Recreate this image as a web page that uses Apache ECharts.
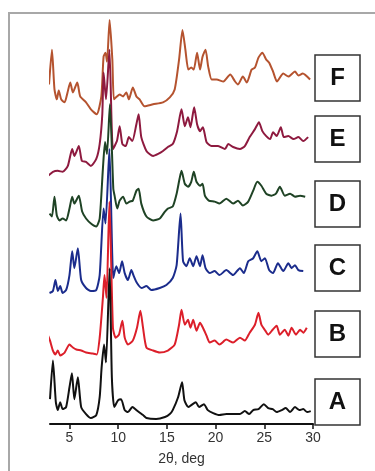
<!DOCTYPE html>
<html>
<head>
<meta charset="utf-8">
<script src="https://cdn.jsdelivr.net/npm/echarts@6/dist/echarts.min.js"></script>
<style>
  html, body { margin: 0; padding: 0; background: #fff; }
  #xrd { width: 375px; height: 471px; }
</style>
</head>
<body>
<div id="xrd"></div>
<script>
// sample names, bottom to top
const samples = ['A', 'B', 'C', 'D', 'E', 'F'];
const colors = ['#111111', '#dc1f2a', '#1b2c8c', '#1f4325', '#8e1a3f', '#b5532f'];
// vertical stacking of the traces
const offsets = [2, 67, 130, 197, 247, 311];
const tickValues = [5, 10, 15, 20, 25, 30];

// 2theta (deg) and intensity (a.u.)
const thetaA = [3.0,3.3,3.6,3.8,4.05,4.3,4.65,5.0,5.25,5.5,5.86,6.2,6.7,7.2,7.75,8.1,8.3,8.55,8.75,9.12,9.35,9.6,10.0,10.3,10.67,11.0,11.45,11.87,12.55,12.9,13.9,14.8,15.3,15.6,16.15,16.56,16.8,17.2,17.5,17.97,18.3,18.8,19.2,19.75,20.4,21.1,21.8,22.5,23.0,23.45,23.86,24.4,24.96,25.4,25.86,26.27,26.8,27.2,27.65,28.15,28.6,29.0,29.4,29.77];
const intA = [23,62,20,12,20,13,15,35,49,23,45,15,8,4,7,25,55,78,60,155,45,15,22,23,12,10,15,12,7,4,3,5,8,12,25,40,22,15,17,20,15,18,12,9,7,8,8,8,11,8,12,13,18,14,13,10,12,14,10,15,12,13,10,11];

const thetaB = [2.8,3.0,3.3,3.56,3.8,4.05,4.5,5.0,5.35,5.7,6.2,6.7,7.4,7.8,8.1,8.43,8.6,8.8,9.1,9.46,9.74,10.08,10.43,10.67,11.0,11.5,11.93,12.28,12.55,12.9,13.58,14.27,15.1,15.8,16.25,16.5,16.84,17.17,17.42,17.7,18.04,18.4,18.7,19.07,19.4,19.9,20.4,21.1,21.8,22.5,23.0,23.5,24.04,24.4,24.7,25.1,25.4,25.86,26.27,26.6,27.1,27.47,27.8,28.25,28.67,29.0,29.36];
const intB = [22,17,7,3,7,2,5,13,10,8,7,5,4,3,20,60,83,60,157,30,20,23,37,20,13,17,30,47,30,10,7,5,7,13,33,48,33,38,30,38,27,35,30,22,15,17,13,18,15,20,17,25,33,45,33,27,23,28,32,23,28,22,30,23,28,25,30];

const thetaC = [2.95,3.3,3.56,3.8,4.05,4.3,4.66,5.0,5.28,5.5,5.86,6.2,6.7,7.2,7.75,8.1,8.5,8.7,9.1,9.5,9.8,10.1,10.4,10.67,11.0,11.35,11.6,11.93,12.4,12.9,13.4,14.27,14.95,15.6,16.0,16.4,16.66,17.0,17.35,17.7,18.04,18.4,18.66,18.97,19.4,19.9,20.4,21.1,21.8,22.5,22.9,23.35,23.86,24.28,24.7,25.06,25.5,25.9,26.4,26.95,27.47,27.8,28.15,28.5,29.0];
const intC = [2,4,15,4,9,2,5,20,44,27,47,15,7,4,5,20,87,72,147,17,29,22,34,22,15,25,19,12,7,9,5,7,10,17,30,82,34,29,37,29,39,29,40,27,22,24,20,25,20,27,22,34,37,44,34,37,25,22,32,24,32,27,30,25,24];

const thetaD = [2.95,3.2,3.46,3.7,3.97,4.3,4.66,5.0,5.28,5.5,5.96,6.3,6.7,7.2,7.75,8.1,8.43,8.65,8.85,9.15,9.5,9.63,9.9,10.15,10.5,10.84,11.18,11.5,11.87,12.1,12.37,12.9,13.58,14.27,14.8,15.1,15.6,16.0,16.3,16.5,16.84,17.17,17.5,17.76,18.04,18.4,18.66,18.9,19.3,19.9,20.4,21.1,21.8,22.3,22.8,23.35,23.86,24.28,24.7,25.2,25.75,26.2,26.6,27.1,27.65,28.15,28.67,29.2];
const intD = [15,12,32,13,8,10,8,20,32,25,33,17,10,5,2,10,60,87,75,125,40,33,20,28,32,25,27,28,38,40,25,12,8,10,17,20,22,35,50,58,45,42,47,57,47,43,45,33,28,27,25,30,25,28,23,27,38,47,43,35,33,35,42,33,35,32,33,32];

const thetaE = [2.8,3.3,3.8,4.3,4.83,5.28,5.5,5.96,6.27,6.7,7.2,7.75,8.1,8.37,8.5,8.75,9.1,9.46,9.87,10.15,10.43,10.77,11.1,11.45,11.87,12.1,12.37,12.9,13.58,14.1,14.6,15.1,15.6,16.05,16.5,16.84,17.17,17.42,17.8,18.1,18.4,18.7,19.07,19.58,20.26,20.96,21.3,21.8,22.5,23.0,23.5,24.04,24.45,24.8,25.2,25.6,25.9,26.27,26.7,27.0,27.47,28.0,28.5,29.0,29.5];
const intE = [3,7,8,7,13,30,23,33,18,17,13,20,35,65,107,80,130,30,38,53,35,33,42,38,55,65,42,28,23,25,28,32,35,48,70,53,62,52,72,55,48,52,37,33,33,30,35,32,30,33,42,50,57,48,43,40,47,43,52,42,43,40,42,38,42];

const thetaF = [2.9,3.2,3.46,3.7,3.9,4.15,4.5,4.8,5.08,5.35,5.8,6.1,6.7,7.2,7.8,8.27,8.5,8.7,8.85,9.12,9.4,9.56,9.87,10.15,10.5,10.84,11.1,11.5,11.87,12.2,12.7,13.58,14.6,15.3,15.8,16.25,16.6,16.9,17.2,17.5,17.76,18.1,18.4,18.66,18.97,19.24,19.6,20.1,20.8,21.5,22.0,22.3,22.8,23.2,23.7,24.04,24.4,24.8,25.2,25.5,25.9,26.3,26.95,27.47,28.15,28.5,28.95,29.7];
const intF = [31,66,26,16,25,16,13,23,33,23,33,19,13,6,1,19,59,63,54,96,56,16,19,21,19,23,16,28,19,16,9,11,13,18,26,56,86,66,46,48,46,63,46,59,66,49,36,36,34,41,34,31,39,33,46,48,58,63,56,53,44,34,42,39,44,40,42,36];

const thetas = [thetaA, thetaB, thetaC, thetaD, thetaE, thetaF];
const intensities = [intA, intB, intC, intD, intE, intF];

const chart = echarts.init(document.getElementById('xrd'));

let series = samples.map(function (name, i) {
  return {
    name: name,
    type: 'line',
    showSymbol: false,
    smooth: 0.2,
    z: 10 - i,
    lineStyle: { color: colors[i], width: 2 },
    data: thetas[i].map(function (t, k) { return [t, intensities[i][k] + offsets[i]]; })
  };
});

// label boxes on the right (A at bottom)
const boxTops = [379, 311, 245, 181, 116, 55];
let graphics = [
  { type: 'line', shape: { x1: 8, y1: 13, x2: 375, y2: 13 }, style: { stroke: '#a8a8a8', lineWidth: 2 } },
  { type: 'line', shape: { x1: 9, y1: 13, x2: 9, y2: 471 }, style: { stroke: '#a8a8a8', lineWidth: 2 } }
];
samples.forEach(function (name, i) {
  graphics.push({
    type: 'rect',
    shape: { x: 315, y: boxTops[i], width: 45, height: 46 },
    style: { fill: '#fff', stroke: '#333', lineWidth: 1.5 }
  });
  graphics.push({
    type: 'text',
    x: 337.5,
    y: boxTops[i] + 23,
    style: {
      text: name,
      fill: '#111',
      font: 'bold 24px "Liberation Sans", Arial, sans-serif',
      align: 'center',
      verticalAlign: 'middle'
    }
  });
});

chart.setOption({
  animation: false,
  backgroundColor: '#fff',
  grid: { left: 50, right: 62, top: 13, bottom: 44 },
  xAxis: {
    type: 'value',
    min: 3,
    max: 30,
    name: '2θ, deg',
    nameLocation: 'middle',
    nameGap: 28,
    nameTextStyle: { color: '#333', fontSize: 14, fontFamily: '"Liberation Sans", Arial, sans-serif' },
    axisLine: { lineStyle: { color: '#111', width: 2 } },
    axisTick: { customValues: tickValues, length: 5, lineStyle: { color: '#111', width: 1.5 } },
    axisLabel: { customValues: tickValues, color: '#333', fontSize: 14, margin: 7, fontFamily: '"Liberation Sans", Arial, sans-serif' },
    splitLine: { show: false }
  },
  yAxis: { type: 'value', min: 0, max: 414, show: false },
  series: series,
  graphic: graphics
});
</script>
</body>
</html>
